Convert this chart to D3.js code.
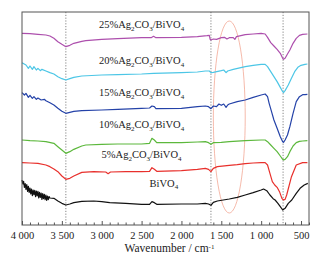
<!DOCTYPE html>
<html lang="en">
<head>
<meta charset="utf-8">
<title>FTIR spectra</title>
<script src="https://d3js.org/d3.v7.min.js"></script>
<style type="text/css">
body { margin: 0; background: #fff; }
text { font-family: "Liberation Serif", "Times New Roman", serif; fill: #222; }
</style>
</head>
<body>
<div id="chart"></div>
<script type="text/javascript">
// spectra: [wavenumber, transmittance (a.u.)]
var bivo4 = [[4000,16.0],[3990,14.8],[3980,15.6],[3970,13.8],[3960,14.9],[3950,13.2],[3940,14.6],[3930,12.6],[3920,14.1],[3910,12.3],[3900,13.6],[3890,11.8],[3880,13.3],[3870,11.3],[3860,13.0],[3850,11.6],[3840,12.9],[3830,11.0],[3820,12.7],[3810,11.2],[3800,12.6],[3790,10.6],[3780,12.3],[3770,10.8],[3760,12.1],[3750,10.2],[3740,11.9],[3730,10.4],[3720,11.7],[3710,10.1],[3700,11.5],[3690,9.9],[3680,11.2],[3670,10.1],[3660,11.0],[3650,10.6],[3600,10.5],[3550,9.7],[3500,9.0],[3450,8.5],[3400,8.8],[3350,9.2],[3250,9.6],[3100,9.7],[3000,9.5],[2900,9.2],[2700,9.0],[2500,8.7],[2400,8.7],[2370,9.5],[2340,9.2],[2310,8.7],[2000,8.8],[1800,8.8],[1700,9.0],[1660,8.8],[1630,8.4],[1600,9.3],[1550,9.7],[1400,10.3],[1300,10.8],[1200,11.5],[1100,12.2],[1000,13.0],[970,13.3],[930,12.8],[890,11.5],[850,10.4],[825,10.0],[790,9.0],[760,8.0],[730,7.0],[700,7.5],[660,9.0],[616,10.0],[560,12.0],[512,13.5],[460,14.5],[415,15.0]];
var ag5 = [[4000,21.2],[3900,21.1],[3800,21.0],[3700,20.5],[3650,20.0],[3600,19.3],[3550,18.5],[3500,17.2],[3450,16.2],[3400,16.5],[3350,17.2],[3250,18.3],[3100,18.5],[2950,18.4],[2920,17.9],[2890,18.4],[2700,18.5],[2500,18.5],[2400,18.6],[2370,19.7],[2340,19.2],[2310,18.6],[2000,18.8],[1800,19.2],[1700,19.5],[1660,19.2],[1630,18.5],[1600,19.5],[1550,20.0],[1400,20.4],[1300,20.6],[1200,20.9],[1100,21.1],[1000,21.2],[950,21.2],[920,20.5],[890,18.0],[860,15.5],[830,14.5],[800,13.8],[770,12.5],[740,10.5],[720,10.0],[700,10.2],[680,11.5],[620,17.0],[560,20.5],[480,21.2],[420,21.2]];
var ag10 = [[4000,28.0],[3900,27.8],[3800,27.7],[3700,27.5],[3600,27.0],[3550,26.0],[3500,25.0],[3450,24.0],[3400,24.5],[3350,25.2],[3250,26.2],[3200,26.5],[3000,26.7],[2800,26.8],[2500,26.8],[2400,27.0],[2370,28.5],[2340,28.0],[2310,27.2],[2000,27.2],[1800,27.4],[1700,27.5],[1660,27.2],[1630,26.7],[1600,27.2],[1500,27.3],[1400,27.5],[1200,27.8],[1000,28.0],[950,28.0],[920,27.5],[880,26.5],[840,25.5],[800,24.5],[760,23.2],[730,22.2],[720,22.0],[700,22.2],[670,23.0],[640,24.5],[600,26.2],[560,27.2],[520,27.6],[480,27.7],[420,27.8]];
var ag15 = [[4000,42.2],[3970,41.5],[3950,42.0],[3920,40.8],[3900,41.4],[3870,40.5],[3850,41.0],[3820,40.2],[3800,40.6],[3760,40.0],[3720,40.2],[3700,39.8],[3650,39.2],[3600,38.5],[3550,37.5],[3500,36.6],[3450,36.0],[3400,36.3],[3350,36.6],[3250,36.8],[3000,37.0],[2800,37.2],[2500,37.5],[2400,37.6],[2370,38.2],[2340,38.0],[2320,37.4],[2000,37.5],[1800,38.0],[1700,38.2],[1660,38.0],[1630,37.4],[1600,38.2],[1560,38.0],[1530,38.8],[1500,38.4],[1470,38.8],[1440,37.8],[1420,38.5],[1400,38.8],[1300,39.5],[1200,40.0],[1100,40.8],[1000,41.5],[950,41.8],[920,41.0],[900,39.0],[870,36.5],[840,34.0],[800,31.5],[760,29.0],[730,27.5],[720,27.3],[700,28.0],[670,29.5],[640,32.0],[600,36.0],[560,39.5],[520,41.0],[480,41.6],[450,41.6],[420,41.7]];
var ag20 = [[4000,51.2],[3950,50.5],[3920,49.5],[3900,50.2],[3870,49.2],[3850,50.0],[3820,49.0],[3800,49.5],[3770,48.8],[3750,49.2],[3700,48.7],[3650,48.2],[3600,47.8],[3550,47.0],[3500,46.4],[3450,46.0],[3400,46.4],[3350,46.8],[3250,47.2],[3000,47.5],[2800,47.6],[2500,47.8],[2350,48.0],[2000,48.2],[1800,48.4],[1700,48.7],[1650,48.7],[1630,48.2],[1600,48.3],[1500,48.8],[1470,49.0],[1440,48.2],[1420,48.7],[1350,49.2],[1200,50.0],[1100,50.4],[1000,50.7],[950,50.7],[920,50.0],[880,48.5],[840,47.0],[800,45.5],[760,43.8],[730,42.5],[720,42.2],[700,42.8],[660,44.5],[620,46.5],[580,48.5],[540,49.8],[500,50.4],[450,50.7],[420,50.8]];
var ag25 = [[4000,60.0],[3900,59.9],[3800,59.7],[3700,59.5],[3650,59.2],[3600,58.5],[3550,57.5],[3500,56.7],[3450,56.0],[3400,56.4],[3350,57.0],[3250,57.6],[3200,57.8],[3000,58.2],[2800,58.4],[2500,58.7],[2380,58.7],[2350,59.1],[2320,58.7],[2000,58.8],[1800,59.0],[1680,59.3],[1650,59.4],[1640,58.2],[1630,58.0],[1600,58.3],[1560,58.2],[1500,58.7],[1460,58.8],[1430,58.3],[1400,58.7],[1350,58.7],[1330,58.2],[1310,59.0],[1200,59.6],[1100,59.8],[1000,60.0],[950,59.8],[920,58.8],[880,57.2],[840,56.2],[800,55.2],[760,54.0],[730,52.5],[720,52.2],[700,52.5],[670,53.8],[640,55.0],[600,57.0],[560,58.5],[520,59.4],[480,59.7],[420,59.8]];

var seriesNames = ["BiVO4", "5%", "10%", "15%", "20%", "25%"];
var seriesData = [bivo4, ag5, ag10, ag15, ag20, ag25];
var seriesColors = ["#111111", "#e8302c", "#5cb83c", "#2442a8", "#4cc6e6", "#ad4fad"];
var labelPos = [[2220, 14.0], [2500, 22.5], [2500, 31.5], [2500, 41.2], [2500, 50.8], [2500, 61.5]];

var xTicks = [4000, 3500, 3000, 2500, 2000, 1500, 1000, 500];
var tickLabels = ["4 000", "3 500", "3 000", "2 500", "2 000", "1 500", "1 000", "500"];
var markLines = [3450, 1630, 725];
var ellipse = { wn: 1400, t: 34.9, dwn: 200, dt: 28.8 };

var w = 324, h = 263;
var margin = { top: 12, right: 15, bottom: 38, left: 22 };

var xScale = d3.scaleLinear().domain([4000, 400]).range([margin.left, w - margin.right]);
var yScale = d3.scaleLinear().domain([2.5, 66.4]).range([h - margin.bottom, margin.top]);

var svg = d3.select("#chart").append("svg")
  .attr("width", w)
  .attr("height", h);

// dotted guide lines
svg.selectAll("line.guide")
  .data(markLines)
  .enter()
  .append("line")
  .attr("class", "guide")
  .attr("x1", d => xScale(d))
  .attr("x2", d => xScale(d))
  .attr("y1", margin.top)
  .attr("y2", h - margin.bottom)
  .attr("stroke", "#666")
  .attr("stroke-width", 0.8)
  .attr("stroke-dasharray", "1.2,1.6");

// highlight ellipse
svg.append("ellipse")
  .attr("cx", xScale(ellipse.wn))
  .attr("cy", yScale(ellipse.t))
  .attr("rx", Math.abs(xScale(ellipse.wn + ellipse.dwn) - xScale(ellipse.wn)))
  .attr("ry", Math.abs(yScale(ellipse.t + ellipse.dt) - yScale(ellipse.t)))
  .attr("fill", "none")
  .attr("stroke", "#f2a896")
  .attr("stroke-width", 0.8);

var line = d3.line()
  .x(d => xScale(d[0]))
  .y(d => yScale(d[1]));

svg.selectAll("path.spec")
  .data(seriesData)
  .enter()
  .append("path")
  .attr("class", "spec")
  .attr("d", line)
  .attr("fill", "none")
  .attr("stroke", (d, i) => seriesColors[i])
  .attr("stroke-width", 1.2)
  .attr("stroke-linejoin", "round");

// labels
seriesNames.forEach(function (name, i) {
  var t = svg.append("text")
    .attr("x", xScale(labelPos[i][0]))
    .attr("y", yScale(labelPos[i][1]))
    .attr("text-anchor", "middle")
    .style("font-size", "10.5px");
  if (i === 0) {
    t.append("tspan").text("BiVO");
    t.append("tspan").attr("dy", 2.5).style("font-size", "7px").text("4");
  } else {
    t.append("tspan").text(name + "Ag");
    t.append("tspan").attr("dy", 2.5).style("font-size", "7px").text("2");
    t.append("tspan").attr("dy", -2.5).text("CO");
    t.append("tspan").attr("dy", 2.5).style("font-size", "7px").text("3");
    t.append("tspan").attr("dy", -2.5).text("/BiVO");
    t.append("tspan").attr("dy", 2.5).style("font-size", "7px").text("4");
  }
});

// x axis with inward ticks
var xAxis = d3.axisBottom(xScale)
  .tickValues(xTicks)
  .tickSizeInner(-4)
  .tickSizeOuter(0)
  .tickPadding(6)
  .tickFormat((d, i) => tickLabels[i]);

var minorAxis = d3.axisBottom(xScale)
  .tickValues(d3.range(4000, 399, -100).filter(v => v % 500 !== 0))
  .tickSizeInner(-2.5)
  .tickSizeOuter(0)
  .tickFormat("");

var gx = svg.append("g")
  .attr("transform", "translate(0," + (h - margin.bottom) + ")")
  .call(xAxis);
gx.select(".domain").remove();
gx.selectAll("line").attr("stroke", "#555");
gx.selectAll("text")
  .style("font-size", "10.5px")
  .attr("fill", "#222")
  .attr("dy", "0.72em");

var gm = svg.append("g")
  .attr("transform", "translate(0," + (h - margin.bottom) + ")")
  .call(minorAxis);
gm.select(".domain").remove();
gm.selectAll("line").attr("stroke", "#555");

// frame
svg.append("rect")
  .attr("x", margin.left)
  .attr("y", margin.top)
  .attr("width", w - margin.left - margin.right)
  .attr("height", h - margin.top - margin.bottom)
  .attr("fill", "none")
  .attr("stroke", "#555")
  .attr("stroke-width", 1);

// axis title
var title = svg.append("text")
  .attr("x", (margin.left + w - margin.right) / 2 + 4)
  .attr("y", 252)
  .attr("text-anchor", "middle")
  .style("font-size", "11.5px");
title.append("tspan").text("Wavenumber / cm");
title.append("tspan").attr("dy", -3.5).style("font-size", "7px").text("-1");
</script>
</body>
</html>
